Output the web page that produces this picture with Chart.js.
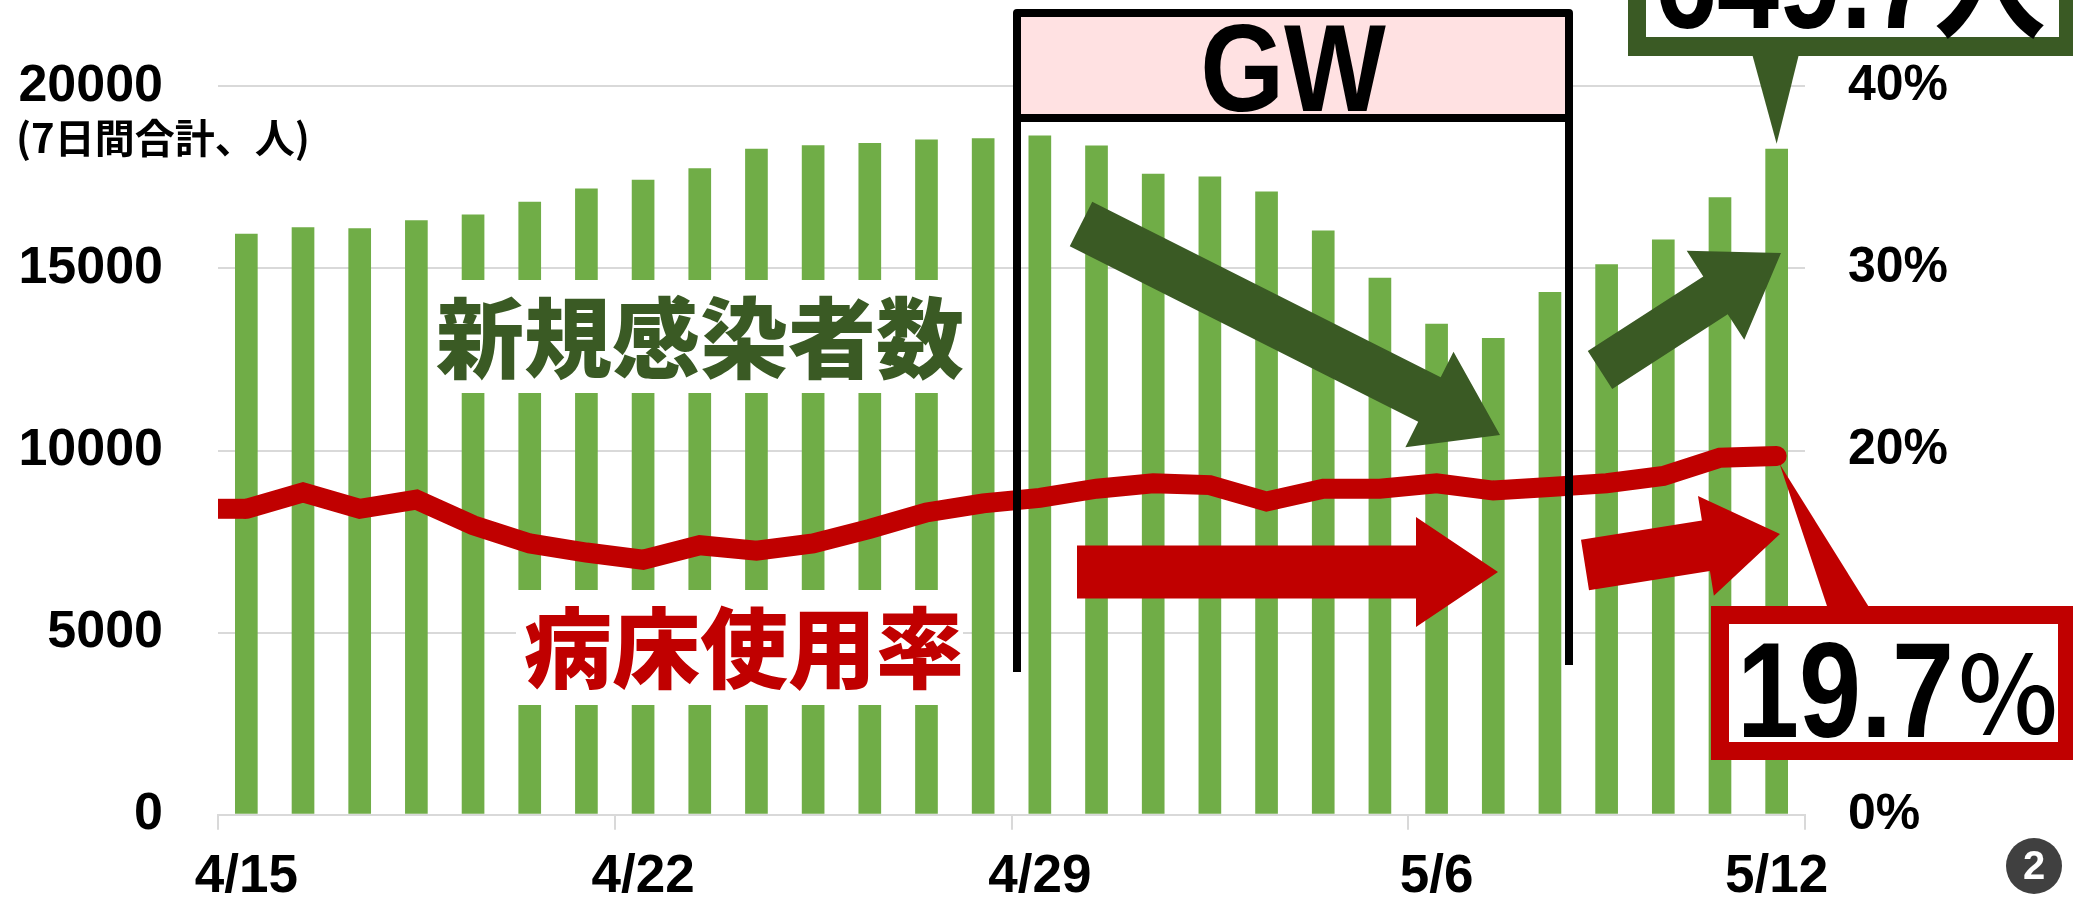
<!DOCTYPE html>
<html>
<head>
<meta charset="UTF-8">
<title>新規感染者数と病床使用率</title>
<script src="https://cdn.jsdelivr.net/npm/chart.js@4.4.1/dist/chart.umd.min.js"></script>
<style>
  html, body { margin: 0; padding: 0; background: #fff; }
  canvas { display: block; }
</style>
</head>
<body>
<canvas id="chart" width="2073" height="901"></canvas>
<script>
// 4/15 - 5/12
var dates = ['4/15', '4/16', '4/17', '4/18', '4/19', '4/20', '4/21', '4/22', '4/23', '4/24',
             '4/25', '4/26', '4/27', '4/28', '4/29', '4/30', '5/1', '5/2', '5/3', '5/4',
             '5/5', '5/6', '5/7', '5/8', '5/9', '5/10', '5/11', '5/12'];
var shownDates = ['4/15', '4/22', '4/29', '5/6', '5/12'];

// 新規感染者数（7日間合計、人）
var newCases = [15950, 16130, 16100, 16320, 16480, 16830, 17190, 17430, 17750, 18280,
                18380, 18440, 18540, 18570, 18650, 18370, 17600, 17520, 17110, 16040,
                14740, 13480, 13090, 14350, 15110, 15790, 16950, 18280];

// 病床使用率（%）
var bedRate = [16.8, 17.7, 16.8, 17.3, 15.9, 14.9, 14.4, 14.0, 14.8, 14.5,
               14.9, 15.7, 16.6, 17.1, 17.4, 17.9, 18.2, 18.1, 17.2, 17.9,
               17.9, 18.2, 17.8, 18.0, 18.2, 18.6, 19.6, 19.7];

var GREEN = '#70AD47';
var DARK_GREEN = '#3A5A24';
var RED = '#C00000';
var GRID = '#D9D9D9';

function arrow(ctx, x0, y0, x1, y1, w, hw, hl, color) {
  var dx = x1 - x0, dy = y1 - y0, len = Math.hypot(dx, dy);
  var ux = dx / len, uy = dy / len, nx = -uy, ny = ux;
  var bx = x1 - ux * hl, by = y1 - uy * hl;
  ctx.beginPath();
  ctx.moveTo(x0 + nx * w / 2, y0 + ny * w / 2);
  ctx.lineTo(bx + nx * w / 2, by + ny * w / 2);
  ctx.lineTo(bx + nx * hw / 2, by + ny * hw / 2);
  ctx.lineTo(x1, y1);
  ctx.lineTo(bx - nx * hw / 2, by - ny * hw / 2);
  ctx.lineTo(bx - nx * w / 2, by - ny * w / 2);
  ctx.lineTo(x0 - nx * w / 2, y0 - ny * w / 2);
  ctx.closePath();
  ctx.fillStyle = color;
  ctx.fill();
}

function squeezed(ctx, text, x, y, font, sx, color, align) {
  ctx.save();
  ctx.font = font;
  ctx.fillStyle = color;
  ctx.textAlign = align || 'left';
  ctx.textBaseline = 'alphabetic';
  ctx.translate(x, y);
  ctx.scale(sx, 1);
  ctx.fillText(text, 0, 0);
  ctx.restore();
}

// line starts at the left edge of the plot in the original
var lineLead = {
  id: 'lineLead',
  beforeDatasetDraw: function (chart, args) {
    if (args.meta.type !== 'line') return;
    var p = args.meta.data[0], ctx = chart.ctx;
    ctx.save();
    ctx.strokeStyle = RED;
    ctx.lineWidth = 20;
    ctx.beginPath();
    ctx.moveTo(chart.chartArea.left, p.y);
    ctx.lineTo(p.x, p.y);
    ctx.stroke();
    ctx.restore();
  }
};

var decorations = {
  id: 'decorations',
  afterDraw: function (chart) {
    var ctx = chart.ctx;
    var bar = chart.getDatasetMeta(1).data[dates.length - 1];
    var pt = chart.getDatasetMeta(0).data[dates.length - 1];
    ctx.save();

    // axis title
    ctx.font = 'bold 40px "Noto Sans CJK JP"';
    ctx.fillStyle = '#000';
    ctx.textBaseline = 'middle';
    ctx.textAlign = 'left';
    ctx.fillText('(7日間合計、人)', 16, 138);

    // white panels behind the labels
    ctx.fillStyle = '#fff';
    ctx.fillRect(436, 280, 530, 113);
    ctx.fillRect(516, 590, 447, 115);

    ctx.font = '900 88px "Noto Sans CJK JP"';
    ctx.textAlign = 'center';
    ctx.textBaseline = 'middle';
    ctx.fillStyle = DARK_GREEN;
    ctx.fillText('新規感染者数', 700, 338);
    ctx.fillStyle = RED;
    ctx.fillText('病床使用率', 744, 648);

    // arrows
    arrow(ctx, 1081, 224, 1500, 435, 50, 107, 79, DARK_GREEN);
    arrow(ctx, 1600, 370, 1781, 253, 45, 106, 78, DARK_GREEN);
    arrow(ctx, 1077, 572, 1498, 572, 53, 110, 82, RED);
    arrow(ctx, 1585, 565, 1780, 534, 51, 101, 75, RED);

    // GW box
    ctx.fillStyle = '#FFE1E2';
    ctx.fillRect(1017, 13, 552, 105);
    ctx.strokeStyle = '#000';
    ctx.lineWidth = 8;
    ctx.lineJoin = 'round';
    ctx.strokeRect(1017, 13, 552, 105);
    ctx.beginPath();
    ctx.moveTo(1017, 118); ctx.lineTo(1017, 672);
    ctx.moveTo(1569, 118); ctx.lineTo(1569, 665);
    ctx.stroke();
    squeezed(ctx, 'GW', 1293, 111, 'bold 124px "Liberation Sans", Arial', 0.87, '#000', 'center');

    // top callout (new cases)
    ctx.fillStyle = DARK_GREEN;
    ctx.beginPath();
    ctx.moveTo(1751, 50); ctx.lineTo(1800, 50); ctx.lineTo(bar.x, bar.y - 5);
    ctx.closePath(); ctx.fill();
    ctx.fillRect(1628, -40, 460, 96);
    ctx.fillStyle = '#fff';
    ctx.fillRect(1646, -40, 413, 77);
    squeezed(ctx, '649.7人', 1655, 28, 'bold 136px "Liberation Sans", "Noto Sans CJK JP"', 0.82, '#000');

    // bottom callout (bed rate)
    ctx.fillStyle = RED;
    ctx.beginPath();
    ctx.moveTo(1829, 612); ctx.lineTo(1872, 612); ctx.lineTo(pt.x + 3, pt.y + 8);
    ctx.closePath(); ctx.fill();
    ctx.fillRect(1711, 606, 380, 154);
    ctx.fillStyle = '#fff';
    ctx.fillRect(1729, 624, 329, 118);
    squeezed(ctx, '19.7', 1737, 737, 'bold 136px "Liberation Sans", Arial', 0.82, '#000');
    ctx.font = '500 106px "Noto Sans CJK JP"';
    ctx.fillStyle = '#000';
    ctx.textAlign = 'left';
    ctx.textBaseline = 'alphabetic';
    ctx.fillText('％', 1955, 734);

    // page badge
    ctx.fillStyle = '#404040';
    ctx.beginPath();
    ctx.arc(2034, 866, 28, 0, Math.PI * 2);
    ctx.fill();
    ctx.fillStyle = '#fff';
    ctx.font = 'bold 40px "Liberation Sans", Arial';
    ctx.textAlign = 'center';
    ctx.textBaseline = 'middle';
    ctx.fillText('2', 2034, 868);

    ctx.restore();
  }
};

var tickFont = { family: '"Liberation Sans", Arial', size: 50, weight: 'bold' };

new Chart(document.getElementById('chart').getContext('2d'), {
  data: {
    labels: dates,
    datasets: [
      {
        type: 'line',
        label: '病床使用率',
        data: bedRate,
        yAxisID: 'y1',
        borderColor: RED,
        borderWidth: 20,
        borderCapStyle: 'round',
        borderJoinStyle: 'miter',
        pointRadius: 0,
        tension: 0,
        order: 0
      },
      {
        type: 'bar',
        label: '新規感染者数',
        data: newCases,
        yAxisID: 'y',
        backgroundColor: GREEN,
        barPercentage: 0.4,
        categoryPercentage: 1.0,
        order: 1
      }
    ]
  },
  options: {
    responsive: false,
    animation: false,
    layout: { padding: { top: 84, left: 0, right: 0, bottom: 0 } },
    plugins: { legend: { display: false }, tooltip: { enabled: false } },
    scales: {
      x: {
        offset: true,
        afterFit: function (s) { s.height = 84; },
        grid: {
          offset: true,
          drawOnChartArea: false,
          tickLength: 15,
          lineWidth: 2,
          color: function (c) {
            return (c.type !== 'tick' || c.index % 7 === 0) ? GRID : 'rgba(0,0,0,0)';
          }
        },
        border: { display: true, color: GRID, width: 2 },
        ticks: {
          autoSkip: false,
          maxRotation: 0,
          padding: 16,
          color: '#000',
          font: { family: '"Liberation Sans", Arial', size: 53, weight: 'bold' },
          callback: function (v, i) {
            return shownDates.indexOf(dates[i]) >= 0 ? dates[i] : '';
          }
        }
      },
      y: {
        position: 'left',
        min: 0,
        max: 20000,
        afterFit: function (s) { s.width = 218; },
        grid: { color: GRID, lineWidth: 2, drawTicks: false },
        border: { display: false },
        ticks: {
          stepSize: 5000,
          padding: 55,
          color: '#000',
          font: { family: '"Liberation Sans", Arial', size: 52, weight: 'bold' },
          callback: function (v) { return String(v); }
        }
      },
      y1: {
        position: 'right',
        min: 0,
        max: 40,
        afterFit: function (s) { s.width = 268; },
        grid: { display: false, drawTicks: false },
        border: { display: false },
        ticks: {
          stepSize: 10,
          padding: 43,
          color: '#000',
          font: tickFont,
          callback: function (v) { return v + '%'; }
        }
      }
    }
  },
  plugins: [lineLead, decorations]
});
</script>
</body>
</html>
